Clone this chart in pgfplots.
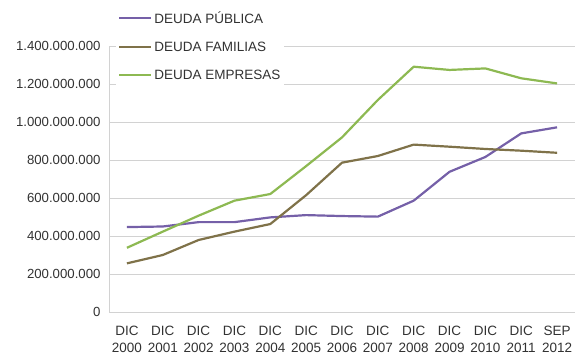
\documentclass[border=0pt]{standalone}
\usepackage{pgfplots}
\pgfplotsset{compat=1.18}
\usepackage{fontspec}
\setmainfont{Liberation Sans}
\definecolor{cpub}{RGB}{117,96,168}
\definecolor{cfam}{RGB}{127,114,73}
\definecolor{cemp}{RGB}{141,185,82}
\definecolor{ctxt}{RGB}{50,50,50}
\definecolor{cgrid}{RGB}{210,210,210}
\begin{document}
\begin{tikzpicture}[x=1pt,y=1pt]
\useasboundingbox (0,0) rectangle (577,362);
\begin{axis}[
  at={(109pt,50pt)}, anchor=south west,
  scale only axis, width=466pt, height=266pt,
  xmin=-0.5, xmax=12.5, ymin=0, ymax=1.4e9,
  axis x line*=bottom, axis y line*=left,
  axis line style={cgrid, line width=0.8pt},
  xtick={0,...,12}, xticklabels={{DIC\\2000},{DIC\\2001},{DIC\\2002},{DIC\\2003},{DIC\\2004},{DIC\\2005},{DIC\\2006},{DIC\\2007},{DIC\\2008},{DIC\\2009},{DIC\\2010},{DIC\\2011},{SEP\\2012}},
  xticklabel style={align=center, font=\fontsize{13.5}{17}\selectfont, text=ctxt, yshift=-11pt},
  ytick={0,2e8,4e8,6e8,8e8,1e9,1.2e9,1.4e9},
  yticklabels={0,200.000.000,400.000.000,600.000.000,800.000.000,1.000.000.000,1.200.000.000,1.400.000.000},
  yticklabel style={font=\fontsize{13.2}{15}\selectfont, text=ctxt, xshift=-5pt},
  scaled y ticks=false,
  major tick length=0pt,
  ymajorgrids, grid style={cgrid, line width=0.8pt},
  legend style={at={(rel axis cs:0.015,1.145)}, anchor=north west, draw=none, fill=white,
    font=\fontsize{13.5}{15}\selectfont, text=ctxt, row sep=13pt, inner sep=2pt},
  legend cell align=left,
  legend image code/.code={\draw[#1] (0pt,0pt) -- (32pt,0pt);},
  every axis plot/.append style={line width=2.2pt, line join=round},
]
\addplot[cpub] coordinates {(0,447e6)(1,450e6)(2,473e6)(3,473e6)(4,498e6)(5,510e6)(6,505e6)(7,502e6)(8,586e6)(9,738e6)(10,816e6)(11,940e6)(12,972e6)};
\addlegendentry{DEUDA PÚBLICA}
\addplot[cfam] coordinates {(0,256e6)(1,300e6)(2,379e6)(3,423e6)(4,463e6)(5,615e6)(6,786e6)(7,821e6)(8,881e6)(9,870e6)(10,858e6)(11,849e6)(12,838e6)};
\addlegendentry{DEUDA FAMILIAS}
\addplot[cemp] coordinates {(0,338e6)(1,423e6)(2,507e6)(3,586e6)(4,621e6)(5,768e6)(6,919e6)(7,1116e6)(8,1291e6)(9,1274e6)(10,1282e6)(11,1230e6)(12,1203e6)};
\addlegendentry{DEUDA EMPRESAS}
\end{axis}
\end{tikzpicture}
\end{document}
